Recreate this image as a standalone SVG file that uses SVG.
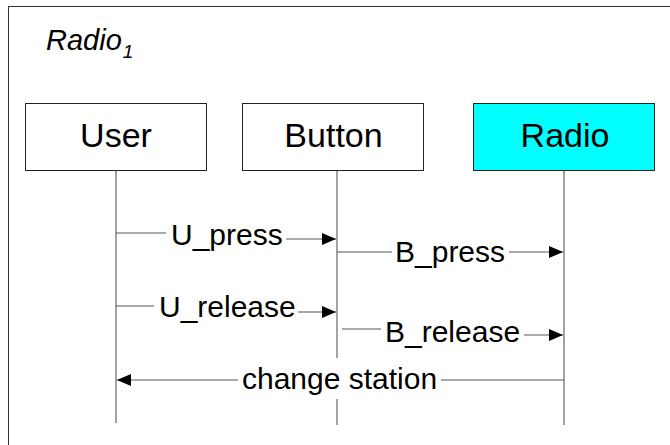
<svg xmlns="http://www.w3.org/2000/svg" width="670" height="445" viewBox="0 0 670 445">
  <defs>
    <style>
      .frame { fill: #ffffff; stroke: #333333; stroke-width: 1; }
      .box { stroke: #222222; stroke-width: 1; }
      .box-plain { fill: #ffffff; }
      .box-active { fill: #00ffff; }
      .label { font-family: "Liberation Sans", Arial, sans-serif; fill: #000000; }
      .box-label { font-size: 34px; text-anchor: middle; }
      .msg-label { font-size: 30px; }
      .title { font-size: 29px; font-style: italic; }
      .sub { font-size: 19px; font-style: italic; }
      .lifeline { stroke: #666666; stroke-width: 1.2; fill: none; }
      .msg { stroke: #555555; stroke-width: 1.2; fill: none; }
      .msg-arrow { marker-end: url(#head); }
      .msg-arrow-start { marker-start: url(#head-rev); }
    </style>
    <marker id="head" markerUnits="userSpaceOnUse" markerWidth="15" markerHeight="13" refX="14" refY="6" orient="auto">
      <path d="M0,0 L14,6 L0,12 Z" fill="#000000"/>
    </marker>
    <marker id="head-rev" markerUnits="userSpaceOnUse" markerWidth="15" markerHeight="13" refX="0" refY="6" orient="auto">
      <path d="M14,0 L0,6 L14,12 Z" fill="#000000"/>
    </marker>
  </defs>

  <rect width="670" height="445" fill="#ffffff"/>

  <!-- diagram frame, open to the right and bottom -->
  <g id="frame">
    <rect class="frame" x="8.5" y="6.5" width="700" height="500"/>
    <text class="label title" x="46" y="50">Radio<tspan class="sub" dx="1" dy="8">1</tspan></text>
  </g>

  <!-- lifelines and messages -->
  <g id="connectors">
    <line class="lifeline" x1="116" y1="171" x2="116" y2="423"/>
    <line class="lifeline" x1="337" y1="171" x2="337" y2="358"/>
    <line class="lifeline" x1="337" y1="399" x2="337" y2="425"/>
    <line class="lifeline" x1="564" y1="171" x2="564" y2="425"/>

    <g id="msg-u-press">
      <line class="msg" x1="116" y1="233" x2="166" y2="233"/>
      <line class="msg msg-arrow" x1="286" y1="239" x2="336" y2="239"/>
      <text class="label msg-label" x="171" y="245">U_press</text>
    </g>
    <g id="msg-b-press">
      <line class="msg" x1="337" y1="252" x2="392" y2="252"/>
      <line class="msg msg-arrow" x1="509" y1="252" x2="563" y2="252"/>
      <text class="label msg-label" x="395" y="262">B_press</text>
    </g>
    <g id="msg-u-release">
      <line class="msg" x1="116" y1="306" x2="154" y2="306"/>
      <line class="msg msg-arrow" x1="298" y1="312" x2="336" y2="312"/>
      <text class="label msg-label" x="159" y="317">U_release</text>
    </g>
    <g id="msg-b-release">
      <line class="msg" x1="342" y1="329" x2="381" y2="329"/>
      <line class="msg msg-arrow" x1="524" y1="335" x2="563" y2="335"/>
      <text class="label msg-label" x="385" y="342">B_release</text>
    </g>
    <g id="msg-change-station">
      <line class="msg msg-arrow-start" x1="117" y1="380" x2="238" y2="380"/>
      <line class="msg" x1="441" y1="380" x2="564" y2="380"/>
      <text class="label msg-label" x="242" y="389">change station</text>
    </g>
  </g>

  <g id="node-user">
    <rect class="box box-plain" x="25.5" y="103.5" width="181" height="67"/>
    <text class="label box-label" x="116" y="147">User</text>
  </g>
  <g id="node-button">
    <rect class="box box-plain" x="242.5" y="103.5" width="181" height="67"/>
    <text class="label box-label" x="333.5" y="147">Button</text>
  </g>
  <g id="node-radio">
    <rect class="box box-active" x="473.5" y="103.5" width="181" height="67"/>
    <text class="label box-label" x="565" y="147">Radio</text>
  </g>
</svg>
